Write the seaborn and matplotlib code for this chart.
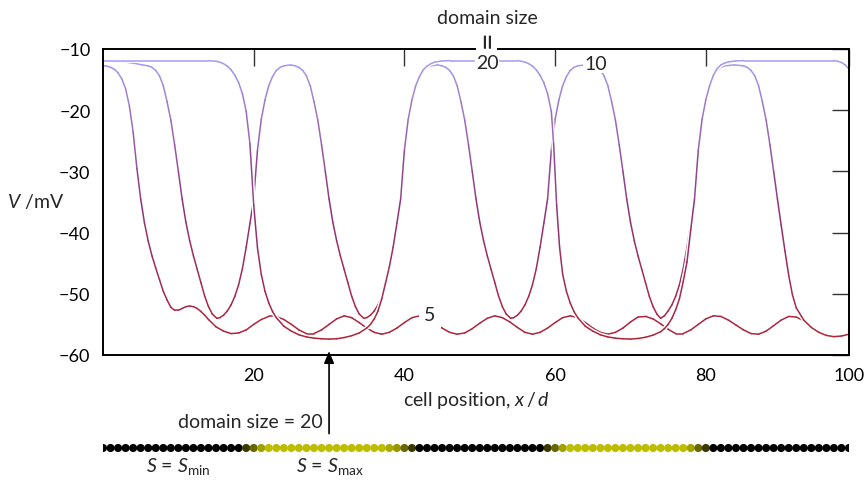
import matplotlib
matplotlib.use('Agg')
import matplotlib.pyplot as plt
from matplotlib.collections import LineCollection
from matplotlib.colors import LinearSegmentedColormap, to_rgb
from matplotlib.patches import Rectangle
import numpy as np
import seaborn as sns

# membrane potential V (mV) against cell position x/d, one list of (x, V) per domain size
pts_size5 = [
    (0, -12.7), (0.5, -12.8), (1, -13.0), (1.5, -13.3), (2, -13.9), (2.5, -14.9),
    (3, -16.5), (3.5, -19.3), (4, -23.6), (4.5, -29.5), (5, -34.5), (5.5, -38.4),
    (6, -41.4), (6.5, -43.8), (7, -45.8), (7.5, -47.7), (8, -49.6), (8.5, -51.0),
    (9, -52.2), (9.5, -52.7), (10, -52.7), (10.5, -52.4), (11, -52.1), (11.5, -52.0),
    (12, -52.1), (12.5, -52.4), (13, -52.9), (13.5, -53.5), (14, -54.2), (15, -55.4),
    (16, -56.1), (17, -56.5), (18, -56.4), (19, -55.9), (20, -55.0), (21, -54.2),
    (22, -53.7), (23, -53.7), (24, -54.2), (25, -55.0), (26, -55.9), (27, -56.5),
    (28, -56.5), (29, -55.9), (30, -55.0), (31, -54.1), (32, -53.6), (33, -53.9),
    (34, -54.7), (35, -55.6), (36, -56.3), (37, -56.6), (38, -56.3), (39, -55.6),
    (40, -54.7), (41, -53.9), (42, -53.6), (43, -53.9), (44, -54.7), (45, -55.6),
    (46, -56.3), (47, -56.6), (48, -56.4), (49, -55.7), (50, -54.8), (51, -54.0),
    (52, -53.6), (53, -53.9), (54, -54.6), (55, -55.5), (56, -56.3), (57, -56.6),
    (58, -56.3), (59, -55.6), (60, -54.7), (61, -53.9), (62, -53.6), (63, -53.9),
    (64, -54.7), (65, -55.6), (66, -56.3), (67, -56.6), (68, -56.3), (69, -55.6),
    (70, -54.6), (71, -53.8), (72, -53.7), (73, -54.1), (74, -54.9), (75, -55.8),
    (76, -56.5), (77, -56.5), (78, -55.9), (79, -55.0), (80, -54.1), (81, -53.6),
    (82, -53.7), (83, -54.3), (84, -55.1), (85, -55.9), (86, -56.5), (87, -56.6),
    (88, -56.1), (89, -55.2), (90, -54.3), (91, -53.7), (92, -53.8), (93, -54.4),
    (94, -55.4), (95, -56.2), (96, -56.7), (97, -56.95), (98, -56.85), (99, -56.6),
]

pts_size10 = [
    (0, -12.0), (2, -12.05), (3, -12.15), (4, -12.3), (5.2, -12.6), (6, -12.75),
    (6.5, -13.0), (7, -13.5), (7.5, -14.4), (8, -16.0), (8.5, -18.6), (9, -21.6),
    (9.5, -25.6), (10, -30.0), (10.5, -34.5), (11, -38.3), (11.5, -41.3), (12, -43.8),
    (12.5, -46.0), (13, -48.2), (13.5, -50.4), (14, -52.1), (14.5, -53.3), (15.1, -54.0),
    (15.5, -53.9), (16, -53.5), (16.5, -52.8), (17, -51.8), (17.5, -50.4), (18, -48.5),
    (18.5, -45.9), (19, -42.4), (19.5, -38.5), (20, -34.5), (20.5, -26.5), (21, -21.5),
    (21.5, -18.3), (22, -16.0), (22.5, -14.5), (23, -13.5), (23.5, -13.0), (24, -12.75),
    (24.9, -12.6), (25.5, -12.75), (26, -13.0), (26.5, -13.5), (27, -14.4), (27.5, -16.0),
    (28, -18.6), (28.5, -21.6), (29, -25.6), (29.5, -30.0), (30, -34.5), (30.5, -38.3),
    (31, -41.3), (31.5, -43.8), (32, -46.0), (32.5, -48.2), (33, -50.4), (33.5, -52.1),
    (34, -53.3), (34.6, -54.0), (35, -53.9), (35.5, -53.5), (36, -52.8), (36.5, -51.8),
    (37, -50.4), (37.5, -48.5), (38, -45.9), (38.5, -42.4), (39, -38.5), (39.5, -34.5),
    (40, -26.5), (40.5, -21.5), (41, -18.3), (41.5, -16.0), (42, -14.5), (42.5, -13.5),
    (43, -13.0), (43.5, -12.75), (44.4, -12.6), (45, -12.75), (45.5, -13.0), (46, -13.5),
    (46.5, -14.4), (47, -16.0), (47.5, -18.6), (48, -21.6), (48.5, -25.6), (49, -30.0),
    (49.5, -34.5), (50, -38.3), (50.5, -41.3), (51, -43.8), (51.5, -46.0), (52, -48.2),
    (52.5, -50.4), (53, -52.1), (53.5, -53.3), (54.1, -54.0), (54.5, -53.9), (55, -53.5),
    (55.5, -52.8), (56, -51.8), (56.5, -50.4), (57, -48.5), (57.5, -45.9), (58, -42.4),
    (58.5, -38.5), (59, -34.5), (59.5, -26.5), (60, -21.5), (60.5, -18.3), (61, -16.0),
    (61.5, -14.5), (62, -13.5), (62.5, -13.0), (63, -12.75), (64.0, -12.6), (65, -12.75),
    (65.5, -13.0), (66, -13.5), (66.5, -14.4), (67, -16.0), (67.5, -18.6), (68, -21.6),
    (68.5, -25.6), (69, -30.0), (69.5, -34.5), (70, -38.3), (70.5, -41.3), (71, -43.8),
    (71.5, -46.0), (72, -48.2), (72.5, -50.4), (73, -52.1), (73.5, -53.3), (74, -54.0),
    (74.5, -53.6), (75, -52.8), (75.5, -51.8), (76, -50.4), (76.5, -48.5), (77, -45.9),
    (77.5, -42.4), (78, -38.5), (78.5, -34.5), (79, -26.5), (79.5, -21.5), (80, -18.3),
    (80.5, -16.0), (81, -14.5), (81.5, -13.5), (82, -13.0), (82.5, -12.75), (83.8, -12.6),
    (85, -12.75), (85.5, -13.0), (86, -13.5), (86.5, -14.4), (87, -16.0), (87.5, -18.6),
    (88, -21.6), (88.5, -25.6), (89, -30.0), (89.5, -34.5), (90, -38.8), (90.5, -43.0),
    (91, -47.0), (91.5, -50.2), (92, -52.3), (93, -54.3), (94, -55.5), (95, -56.3),
    (96, -56.8), (97, -57.0), (98, -56.9), (99, -56.6),
]

pts_size20 = [
    (0, -11.9), (14, -11.9), (15, -12.0), (15.5, -12.15), (16, -12.4), (16.5, -12.8),
    (17, -13.4), (17.5, -14.3), (18, -15.5), (18.5, -17.3), (19, -20.2), (19.5, -25.5),
    (20, -35.5), (20.5, -42.5), (21, -46.8), (21.5, -49.6), (22, -51.5), (22.5, -52.9),
    (23, -53.9), (24, -55.3), (25, -56.1), (26, -56.7), (27, -57.05), (28, -57.25),
    (29, -57.35), (30, -57.4), (31, -57.35), (32, -57.15), (33, -56.85), (34, -56.4),
    (35, -55.6), (35.5, -55.0), (36, -54.1), (36.5, -52.8), (37, -50.8), (37.5, -48.2),
    (38, -45.6), (38.5, -42.4), (39, -38.5), (39.5, -34.5), (40, -26.5), (40.5, -21.5),
    (41, -18.3), (41.5, -16.0), (42, -14.5), (42.5, -13.4), (43, -12.8), (43.5, -12.4),
    (44, -12.15), (45, -11.95), (46, -11.9), (55, -11.9), (55.5, -12.0), (56, -12.15),
    (56.5, -12.4), (57, -12.8), (57.5, -13.4), (58, -14.3), (58.5, -15.5), (59, -17.3),
    (59.5, -20.2), (59.8, -25.5), (60.2, -35.5), (60.6, -42.5), (61, -46.8), (61.5, -49.6),
    (62, -51.5), (62.5, -52.9), (63, -53.9), (64, -55.3), (65, -56.1), (66, -56.7),
    (67, -57.05), (68, -57.25), (69, -57.35), (70, -57.4), (71, -57.3), (72, -57.1),
    (73, -56.75), (74, -56.2), (74.5, -55.7), (75, -55.0), (75.5, -54.0), (76, -52.6),
    (76.5, -50.8), (77, -48.0), (77.5, -44.8), (78, -39.5), (78.5, -34.5), (79, -26.5),
    (79.5, -21.5), (80, -18.3), (80.5, -16.0), (81, -14.3), (81.5, -13.2), (82, -12.6),
    (82.5, -12.3), (83, -12.1), (84, -11.95), (85, -11.9), (97, -11.9), (97.5, -12.0),
    (98, -12.2), (98.5, -12.6), (99, -13.3),
]

curve_labels = ['5', '10', '20']
# where each curve label sits (x, V)
label_pos = {'5': (43.4, -53.4), '10': (65.4, -12.3), '20': (51.0, -12.2)}

# S level per cell for domain size 20 (0 = S_min, 1 = S_max)
cells = np.arange(100)
s_level = ([0.0] * 19 + [0.3, 0.55, 0.85] + [1.0] * 16 + [0.9, 0.8, 0.55, 0.3]
           + [0.0] * 17 + [0.3, 0.55, 0.85] + [1.0] * 16 + [0.85, 0.55, 0.3]
           + [0.0] * 19)

y_ticks = [-60, -50, -40, -30, -20, -10]
x_ticks = [20, 40, 60, 80, 99]
x_ticklabels = ['20', '40', '60', '80', '100']

sns.set_style('white')
plt.rcParams['font.family'] = ['Lato', 'DejaVu Sans']
plt.rcParams['mathtext.fontset'] = 'custom'
plt.rcParams['mathtext.rm'] = 'Lato'
plt.rcParams['mathtext.it'] = 'Lato:italic'
plt.rcParams['font.size'] = 13

fig = plt.figure(figsize=(8.64, 4.81), dpi=100)
ax = fig.add_axes([103 / 864, 125 / 481, 746 / 864, 306 / 481])

cmap = LinearSegmentedColormap.from_list('vmap', ['#b02438', '#8e357c', '#a69cf0'])
norm = plt.Normalize(-57.5, -12.0)

curves = {'5': pts_size5, '10': pts_size10, '20': pts_size20}
for name in curve_labels:
    x, v = (np.asarray(a, dtype=float) for a in zip(*curves[name]))
    # white halo so that crossing lines leave a small gap
    sns.lineplot(x=x, y=v, color='white', lw=3.2, ax=ax, zorder=2, sort=False)
    pts = np.column_stack([x, v]).reshape(-1, 1, 2)
    segs = np.concatenate([pts[:-1], pts[1:]], axis=1)
    lc = LineCollection(segs, cmap=cmap, norm=norm, lw=1.1, zorder=2,
                        capstyle='round', joinstyle='round')
    lc.set_array((v[:-1] + v[1:]) / 2)
    ax.add_collection(lc)

# white patch behind the "20" label, cutting the line and the top frame
ax.add_patch(Rectangle((49.5, -13.9), 2.8, 4.5, facecolor='white', edgecolor='none',
                       zorder=5, clip_on=False))
label_pad = {'5': 3.5, '10': 1.2, '20': 0.5}
for name in curve_labels:
    lx, ly = label_pos[name]
    ax.text(lx, ly, name, ha='center', va='center', fontsize=14, zorder=6,
            clip_on=False, bbox=dict(facecolor='white', edgecolor='none', pad=label_pad[name]))

ax.text(51.0, -8.3, '=', rotation=90, ha='center', va='center', fontsize=22,
        clip_on=False, zorder=6)
ax.text(51.0, -4.8, 'domain size', ha='center', va='center', fontsize=14, clip_on=False)

ax.set_xlim(0, 99)
ax.set_ylim(-60, -10)
ax.set_xticks(x_ticks)
ax.set_xticklabels(x_ticklabels)
ax.set_yticks(y_ticks)
ax.tick_params(direction='in', length=12, width=1.0, colors='#333333', labelcolor='black',
               top=True, right=True, labelsize=13, pad=9)
for spine in ax.spines.values():
    spine.set_color('black')
    spine.set_linewidth(1.4)

ax.set_xlabel(r'cell position, $x\,$/$\,d$', fontsize=14, labelpad=4)
ax.set_ylabel(r'$V$ /mV', fontsize=14, rotation=0, ha='center', va='center')
ax.yaxis.set_label_coords(-0.09, 1 - (202 - 50) / 306)

# arrow marking one domain of size 20
ax.annotate('', xy=(30.0, -58.9), xytext=(30.0, -73.3), annotation_clip=False,
            arrowprops=dict(arrowstyle='-|>,head_length=0.6,head_width=0.25',
                            mutation_scale=12, lw=1.2, color='black'))
ax.text(29.1, -70.9, 'domain size = 20', ha='right', va='center', fontsize=14, clip_on=False)

# row of cells coloured by S
ax_dots = fig.add_axes([103 / 864, 13 / 481, 746 / 864, 38 / 481])
yellow = np.array(to_rgb('#bdbd00'))
dot_colors = [tuple(yellow * s) for s in s_level]
sns.scatterplot(x=cells, y=np.zeros(len(cells)), c=dot_colors, s=34, linewidth=0,
                ax=ax_dots, legend=False)
ax_dots.set_xlim(0, 99)
ax_dots.set_ylim(-1, 1)
ax_dots.axis('off')

fig.text(178 / 864, 1 - 467 / 481, r'$S$ = $S_{\mathrm{min}}$', ha='center', va='center', fontsize=14)
fig.text(330 / 864, 1 - 467 / 481, r'$S$ = $S_{\mathrm{max}}$', ha='center', va='center', fontsize=14)

fig.savefig('out.png', dpi=100)
